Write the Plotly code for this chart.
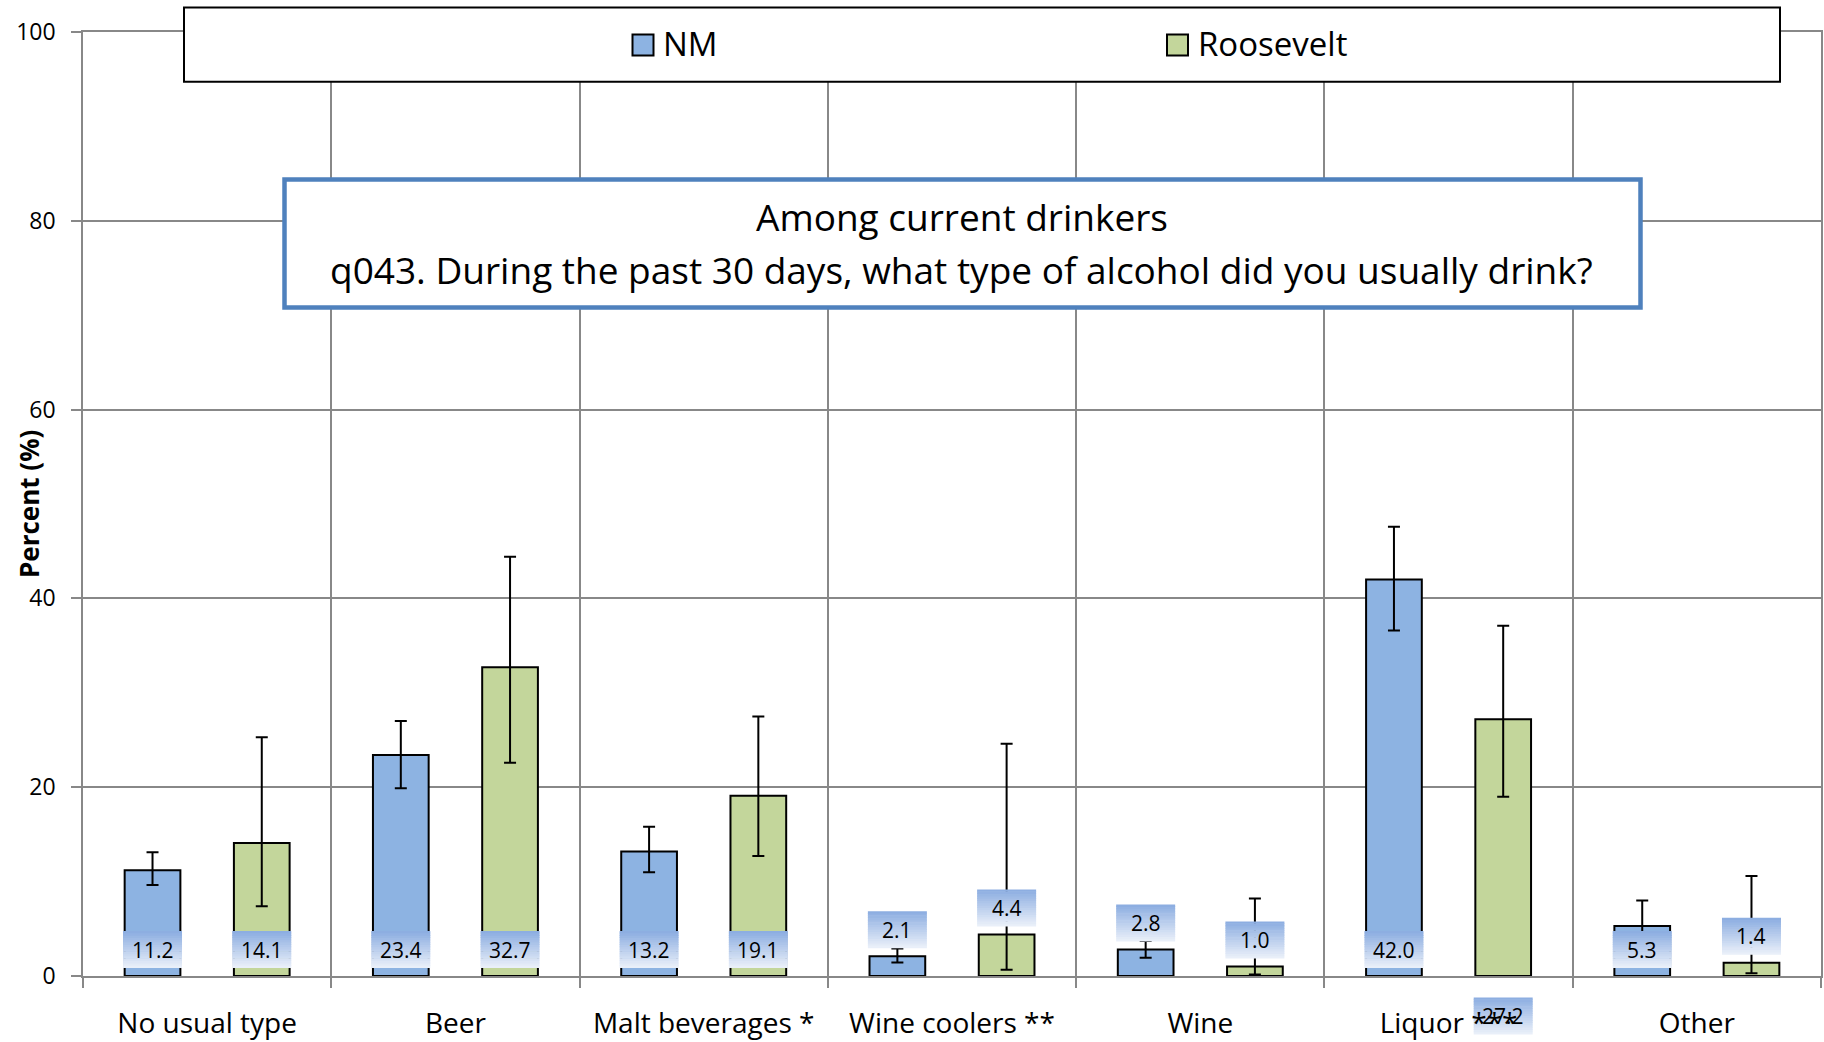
import plotly.graph_objects as go

# ---------------- data ----------------
categories = ["No usual type", "Beer", "Malt beverages *", "Wine coolers **",
              "Wine", "Liquor ***", "Other"]
nm_values = [11.2, 23.4, 13.2, 2.1, 2.8, 42.0, 5.3]
nm_upper = [13.1, 27.0, 15.8, 2.9, 3.7, 47.6, 8.0]
nm_lower = [9.65, 19.9, 11.0, 1.43, 1.93, 36.6, 3.4]
ros_values = [14.1, 32.7, 19.1, 4.4, 1.0, 27.2, 1.4]
ros_upper = [25.3, 44.4, 27.5, 24.6, 8.2, 37.1, 10.6]
ros_lower = [7.4, 22.6, 12.7, 0.66, 0.16, 19.0, 0.3]
y_ticks = [0, 20, 40, 60, 80, 100]
title_lines = ["Among current drinkers",
               "q043. During the past 30 days, what type of alcohol did you usually drink?"]

# ---------------- styles / layout ----------------
W, H = 1824, 1042
L, R, T, B = 83, 3, 32, 66
PW, PH = W - L - R, H - T - B
FONT = "Open Sans"
NM_COLOR = "#8DB3E2"
ROS_COLOR = "#C3D69B"
GRID = "#888888"
BARGAP = 0.12
BARGROUPGAP = 0.49
LBL_W, LBL_H, LBL_PAD = 59, 37, 8
GRAD_TOP = (141, 174, 225)
GRAD_BOT = (233, 239, 249)
# one data label was manually dragged below the axis in the original chart
MANUAL_LABEL_BOTTOM = {("Roosevelt", 5): -58.5}


def px_x(px):
    return (px - L) / PW


def px_y(py):
    return (H - B - py) / PH


fig = go.Figure()
series = [
    ("NM", nm_values, nm_upper, nm_lower, NM_COLOR, -1),
    ("Roosevelt", ros_values, ros_upper, ros_lower, ROS_COLOR, 1),
]
for name, vals, up, lo, col, _ in series:
    fig.add_trace(go.Bar(
        name=name, x=categories, y=vals,
        marker=dict(color=col, line=dict(color="black", width=2)),
        error_y=dict(type="data", symmetric=False,
                     array=[u - v for u, v in zip(up, vals)],
                     arrayminus=[v - l for v, l in zip(vals, lo)],
                     color="black", thickness=2, width=6),
        showlegend=False,
    ))

shapes = []
annotations = []
px_per_unit = PH / 100.0
offset = (1 - BARGAP) / 4
n_strips = 16
ncat = len(categories)
for name, vals, up, lo, col, sign in series:
    for i, v in enumerate(vals):
        xc = i + sign * offset
        if v * px_per_unit >= LBL_PAD + LBL_H + 4:
            base = 0
        else:
            base = v
        bottom = LBL_PAD
        manual = (name, i) in MANUAL_LABEL_BOTTOM
        if manual:
            base = 0
            bottom = MANUAL_LABEL_BOTTOM[(name, i)]
        # paper coordinates avoid clipping of the label box at the plot edge
        xp = (xc + 0.5) / ncat
        yp = base / 100.0
        sh = LBL_H / n_strips
        for k in range(n_strips):
            t = k / (n_strips - 1)  # 0 bottom -> 1 top
            c = tuple(round(GRAD_BOT[j] + (GRAD_TOP[j] - GRAD_BOT[j]) * t) for j in range(3))
            shapes.append(dict(
                type="rect", layer="below" if manual else "above",
                xref="paper", xsizemode="pixel", xanchor=xp, x0=-LBL_W / 2, x1=LBL_W / 2,
                yref="paper", ysizemode="pixel", yanchor=yp,
                y0=bottom + k * sh, y1=bottom + (k + 1) * sh + (0.6 if k < n_strips - 1 else 0),
                fillcolor="rgb(%d,%d,%d)" % c, line=dict(width=0),
            ))
        annotations.append(dict(
            x=xc, y=base, xref="x", yref="y", yshift=bottom + LBL_H / 2,
            text="%.1f" % v, showarrow=False, yanchor="middle", xanchor="center",
            font=dict(family=FONT, size=21, color="black"),
        ))

# title box
shapes.append(dict(type="rect", layer="above", xref="paper", yref="paper",
                   x0=px_x(284.5), x1=px_x(1640.5), y0=px_y(307.5), y1=px_y(179.5),
                   fillcolor="white", line=dict(color="#4F81BD", width=4.5)))
for line, cy in zip(title_lines, [216, 269]):
    annotations.append(dict(x=px_x(962), y=px_y(cy), xref="paper", yref="paper",
                            text=line, showarrow=False, xanchor="center", yanchor="middle",
                            font=dict(family=FONT, size=37, color="black")))

# legend box
shapes.append(dict(type="rect", layer="above", xref="paper", yref="paper",
                   x0=px_x(184), x1=px_x(1780), y0=px_y(81.7), y1=px_y(7.5),
                   fillcolor="white", line=dict(color="black", width=2)))
for (name, _, _, _, col, _), mx in zip(series, [643, 1177.5]):
    shapes.append(dict(type="rect", layer="above", xref="paper", yref="paper",
                       x0=px_x(mx - 10.5), x1=px_x(mx + 10.5), y0=px_y(55.5), y1=px_y(34.5),
                       fillcolor=col, line=dict(color="black", width=2)))
    annotations.append(dict(x=px_x(mx + 18), y=px_y(43), xref="paper", yref="paper",
                            text=name, showarrow=False, xanchor="left", yanchor="middle",
                            font=dict(family=FONT, size=33, color="black")))

# y-axis title
annotations.append(dict(x=px_x(29), y=px_y(504), xref="paper", yref="paper",
                        text="<b>Percent (%)</b>", showarrow=False, textangle=-90,
                        xanchor="center", yanchor="middle",
                        font=dict(family=FONT, size=26, color="black")))

fig.update_layout(
    width=W, height=H,
    margin=dict(l=L, r=R, t=T, b=B, autoexpand=False),
    paper_bgcolor="white", plot_bgcolor="white",
    barmode="group", bargap=BARGAP, bargroupgap=BARGROUPGAP,
    font=dict(family=FONT, color="black"),
    shapes=shapes, annotations=annotations,
    showlegend=False,
)
fig.update_xaxes(
    type="category", categoryorder="array", categoryarray=categories,
    range=[-0.5, ncat - 0.5],
    tickson="boundaries", ticks="outside", ticklen=10, tickwidth=1.5, tickcolor=GRID,
    showgrid=True, gridcolor=GRID, gridwidth=1.5,
    showline=True, linecolor=GRID, linewidth=1.5, mirror=True,
    tickfont=dict(family=FONT, size=28, color="black"), ticklabelstandoff=22,
    fixedrange=True,
)
fig.update_yaxes(
    range=[0, 100], tickvals=y_ticks, ticks="outside", ticklen=10, tickwidth=1.5,
    tickcolor=GRID, showgrid=True, gridcolor=GRID, gridwidth=1.5, zeroline=False,
    showline=True, linecolor=GRID, linewidth=1.5, mirror=True,
    tickfont=dict(family=FONT, size=23, color="black"), ticklabelstandoff=11,
    fixedrange=True,
)

fig.write_html("out.html", config={"displayModeBar": False},
               post_script="document.body.style.margin='0px';")
